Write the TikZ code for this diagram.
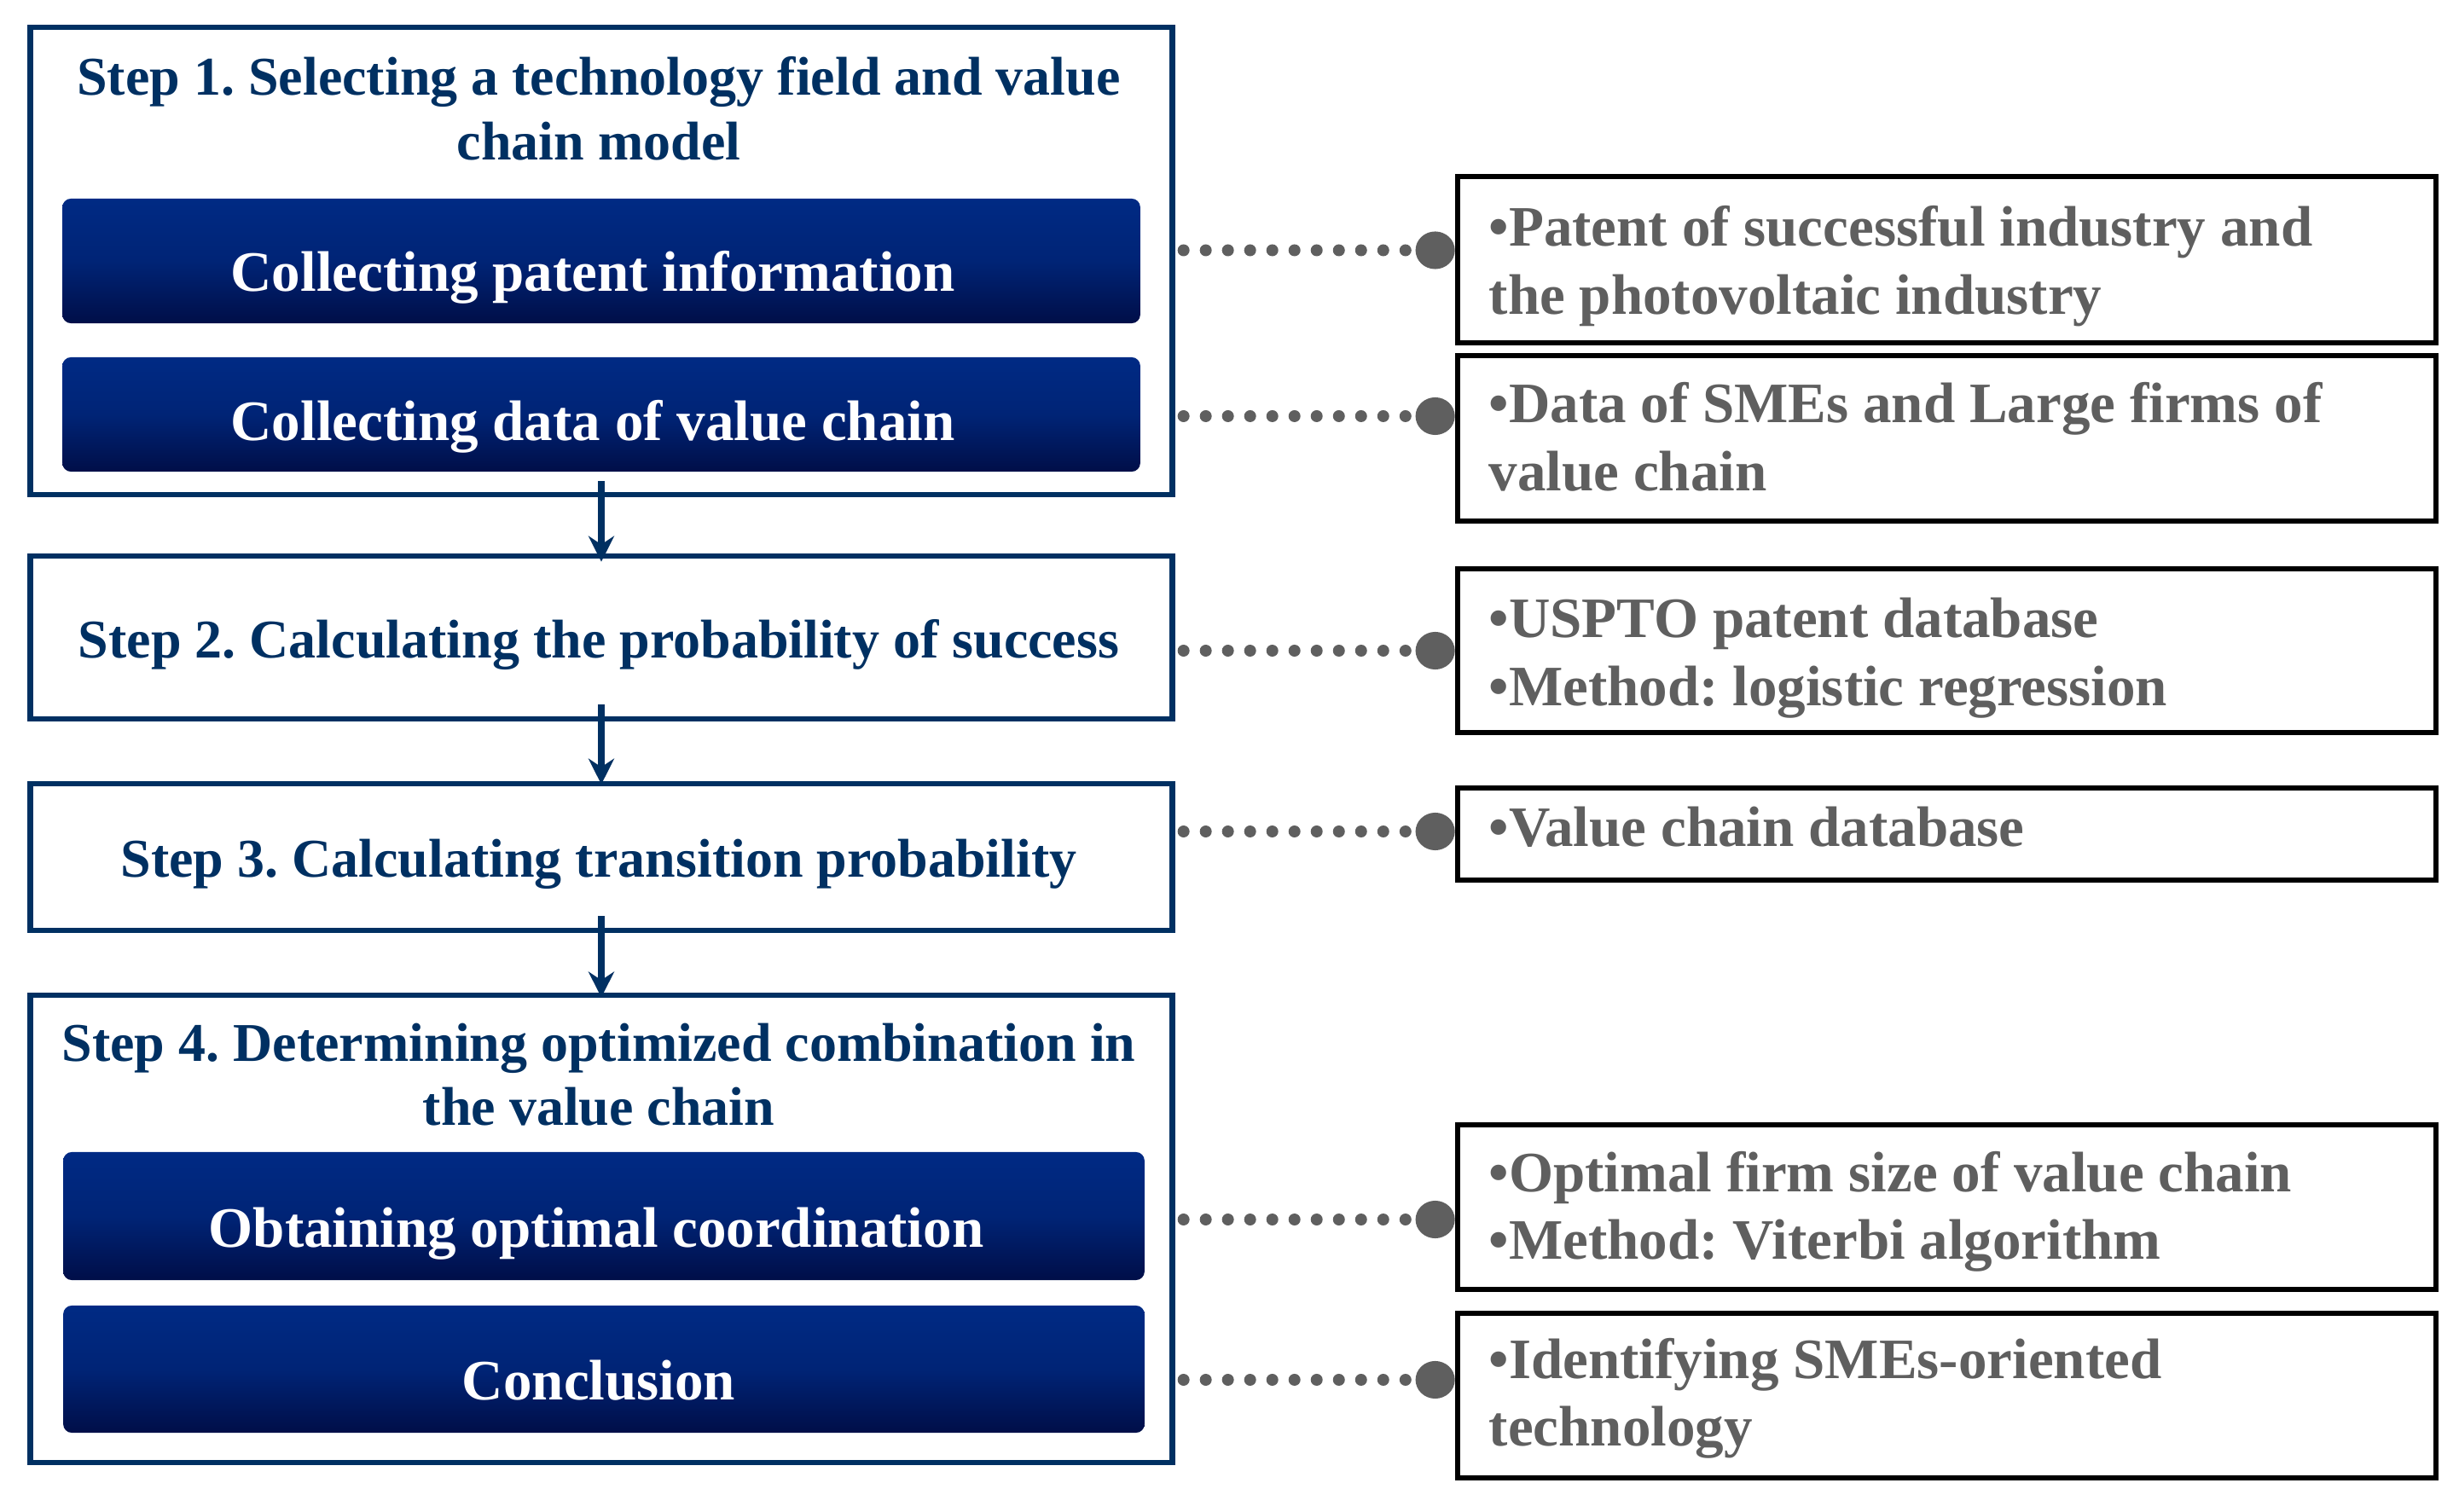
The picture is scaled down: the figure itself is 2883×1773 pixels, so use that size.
\documentclass[tikz,border=0pt]{standalone}
\usepackage{fontspec}
\setmainfont{Liberation Serif}
\usetikzlibrary{arrows.meta,calc}
\definecolor{navy}{RGB}{0,48,98}
\definecolor{btntop}{RGB}{0,42,132}
\definecolor{btnmid}{RGB}{0,36,118}
\definecolor{btnbot}{RGB}{0,14,72}
\definecolor{txtgray}{RGB}{95,95,95}
\definecolor{dotgray}{RGB}{95,95,95}
\frenchspacing
\begin{document}
\begin{tikzpicture}[x=0.01cm,y=-0.01cm,
 stepframe/.style={draw=navy, line width=0.065cm, minimum width=13.38cm, inner sep=0pt},
 steptitle/.style={text=navy, font=\fontsize{18.2pt}{21.6pt}\selectfont\bfseries, inner sep=0pt, anchor=base},
 btn/.style={rounded corners=0.1cm, top color=btntop, bottom color=btnbot, middle color=btnmid, text=white, font=\fontsize{19.06pt}{22pt}\selectfont\bfseries, inner sep=0pt, text depth=0pt, text height=#1},
 infobox/.style={draw=black, line width=0.06cm, minimum width=11.47cm, inner sep=0pt},
 infotext/.style={text=txtgray, font=\fontsize{19.06pt}{22.5pt}\selectfont\bfseries, inner sep=0pt, anchor=base west},
 flow/.style={draw=navy, line width=0.08cm, -{Stealth[length=0.3cm,width=0.3cm]}},
 dotline/.style={draw=dotgray, line width=0.14cm, line cap=round, dash pattern=on 0pt off 0.26cm, shorten <=0.1cm, -{Circle[length=0.46cm,width=0.44cm]}}
]
\useasboundingbox (0,0) rectangle (2883,1773);

% step frames
\node[stepframe, minimum height=5.48cm] (s1) at (705,306) {};
\node[stepframe, minimum height=1.91cm] (s2) at (705,747.5) {};
\node[stepframe, minimum height=1.72cm] (s3) at (705,1005) {};
\node[stepframe, minimum height=5.48cm] (s4) at (705,1441) {};

% step titles
\node[steptitle] (t1) at (702,112) {\begin{tabular}[t]{@{}c@{}}Step 1. Selecting a technology field and value\\chain model\end{tabular}};
\node[steptitle] (t2) at (702,772) {Step 2. Calculating the probability of success};
\node[steptitle] (t3) at (702,1028) {Step 3. Calculating transition probability};
\node[steptitle] (t4) at (702,1244) {\begin{tabular}[t]{@{}c@{}}Step 4. Determining optimized combination in\\the value chain\end{tabular}};

% buttons
\node[btn=0.71cm, minimum width=12.63cm, minimum height=1.46cm] (b1) at (705,306) {Collecting patent information\kern0.2cm};
\node[btn=0.60cm, minimum width=12.63cm, minimum height=1.34cm] (b2) at (705,486) {Collecting data of value chain\kern0.2cm};
\node[btn=0.72cm, minimum width=12.67cm, minimum height=1.50cm] (b3) at (708,1426) {Obtaining optimal coordination\kern0.18cm};
\node[btn=0.71cm, minimum width=12.67cm, minimum height=1.49cm] (b4) at (708,1605.5) {Conclusion\kern0.12cm};

% arrows between steps
\draw[flow] ([yshift=0.19cm]s1.south) -- ([yshift=-0.10cm]s2.north);
\draw[flow] ([yshift=0.20cm]s2.south) -- ([yshift=-0.04cm]s3.north);
\draw[flow] ([yshift=0.20cm]s3.south) -- ([yshift=-0.06cm]s4.north);

% info boxes
\node[infobox, minimum height=1.95cm] (r1) at (2282.5,304.5) {};
\node[infobox, minimum height=1.94cm] (r2) at (2282.5,514) {};
\node[infobox, minimum height=1.92cm] (r3) at (2282.5,763) {};
\node[infobox, minimum height=1.08cm] (r4) at (2282.5,978) {};
\node[infobox, minimum height=1.93cm] (r5) at (2282.5,1415.5) {};
\node[infobox, minimum height=1.93cm] (r6) at (2282.5,1636.5) {};

\node[infotext] (i1) at (1745,289) {\begin{tabular}[t]{@{}l@{}}•Patent of successful industry and\\the photovoltaic industry\end{tabular}};
\node[infotext] (i2) at (1745,496) {\begin{tabular}[t]{@{}l@{}}•Data of SMEs and Large firms of\\value chain\end{tabular}};
\node[infotext] (i3) at (1745,748) {\begin{tabular}[t]{@{}l@{}}•USPTO patent database\\•Method: logistic regression\end{tabular}};
\node[infotext] (i4) at (1745,993) {•Value chain database};
\node[infotext] (i5) at (1745,1397) {\begin{tabular}[t]{@{}l@{}}•Optimal firm size of value chain\\•Method: Viterbi algorithm\end{tabular}};
\node[infotext] (i6) at (1745,1616) {\begin{tabular}[t]{@{}l@{}}•Identifying SMEs-oriented\\technology\end{tabular}};

% dotted connectors
\coordinate (e1) at ([yshift=0.11cm]r1.west);
\coordinate (e2) at ([yshift=0.26cm]r2.west);
\coordinate (e3) at (r3.west);
\coordinate (e4) at ([yshift=0.03cm]r4.west);
\coordinate (e5) at ([yshift=-0.145cm]r5.west);
\coordinate (e6) at ([yshift=0.185cm]r6.west);
\draw[dotline] (s1.east |- e1) -- (e1);
\draw[dotline] (s1.east |- e2) -- (e2);
\draw[dotline] (s2.east |- e3) -- (e3);
\draw[dotline] (s3.east |- e4) -- (e4);
\draw[dotline] (s4.east |- e5) -- (e5);
\draw[dotline] (s4.east |- e6) -- (e6);
\end{tikzpicture}
\end{document}
